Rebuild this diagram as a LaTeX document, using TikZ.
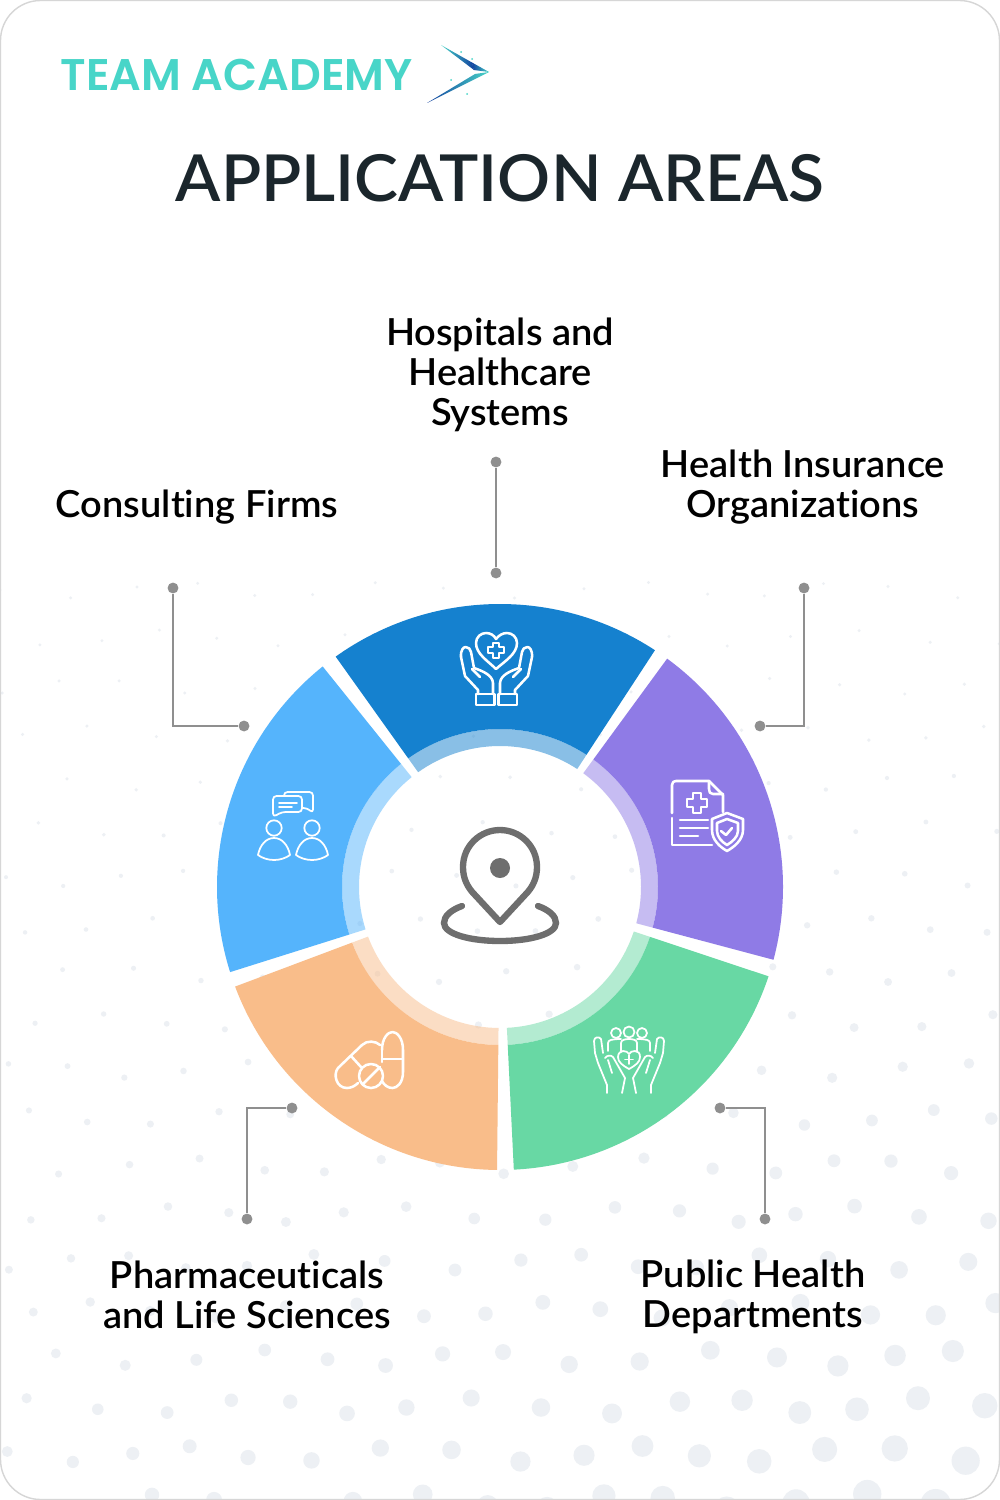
\documentclass[tikz,border=0pt]{standalone}
\usepackage{fontspec}
\setmainfont{Lato Semibold}[FakeStretch=1.02,RawFeature={-liga}]
\newfontfamily\logofont{Poppins SemiBold}
\definecolor{hospblue}{HTML}{1581CF}
\definecolor{firmblue}{HTML}{55B4FC}
\definecolor{pharmaorange}{HTML}{F9BD8A}
\definecolor{publicgreen}{HTML}{68D8A4}
\definecolor{insurepurple}{HTML}{8F7BE6}
\definecolor{logoteal}{HTML}{48D5C8}
\definecolor{logonavy}{HTML}{12409F}
\definecolor{titleink}{HTML}{1B262C}
\definecolor{leadgray}{HTML}{8F8F8F}
\definecolor{pingray}{HTML}{6E6E6E}
\definecolor{speck}{HTML}{EDF0F4}
\tikzset{
  leader/.style={draw=leadgray,line width=0.55pt},
  tick/.style={circle,fill=leadgray,inner sep=0pt,minimum size=3.1pt},
  arealabel/.style={align=center,font=\fontsize{10.6}{11.4}\selectfont,text=black},
  icon/.style={draw=white,line width=0.72pt,line cap=round,line join=round},
  thinicon/.style={icon,line width=0.5pt},
}
\begin{document}
\begin{tikzpicture}[x=0.01cm,y=-0.01cm]
  \useasboundingbox (0,0) rectangle (1000,1500);
  \fill[white] (0,0) rectangle (1000,1500);
  % backdrop specks
  \begin{scope}
    \clip[rounded corners=11.4pt] (0,0) rectangle (1000,1500);
    \foreach \row in {0,...,19}{
      \foreach \col in {-1,...,15}{
        \pgfmathsetmacro{\px}{\col*64+mod(\row,2)*31+9*sin(\row*83+\col*47)}
        \pgfmathsetmacro{\py}{590+\row*48+8*sin(\row*59+\col*101)}
        \pgfmathsetmacro{\tval}{(\py-600)/900}
        \pgfmathsetmacro{\dotr}{1.6+14*\tval*\tval*(0.3+0.7*max(\px,0)/1000)}
        \fill[speck] (\px,\py) circle[radius=\dotr];
      }
    }
  \end{scope}
  \draw[draw=black!16,line width=0.4pt,rounded corners=11.4pt] (0.5,0.5) rectangle (999.5,1499.5);

  % logo
  \node[anchor=west,inner sep=0pt,text=logoteal,font=\logofont\fontsize{12.6}{14}\selectfont] (logo) at (60,75) {TEAM ACADEMY};
  \shade[left color=logoteal,right color=logonavy] (441,45) -- (472,62.5) -- (474,70) -- cycle;
  \shade[left color=logonavy,right color=logoteal] (471.8,62.4) -- (489,72) -- (473.8,70) -- cycle;
  \shade[left color=logonavy,right color=logoteal] (427,103) -- (475,74) -- (489,72) -- cycle;
  \foreach \sx/\sy in {461/52,472/59,451/80,467/94}
    \fill[logoteal] (\sx,\sy) circle[radius=1];

  \node[inner sep=0pt,text=titleink,font=\fontsize{18.4}{20}\selectfont] (title) at (500,178) {APPLICATION AREAS};

  % ring
  \begin{scope}[shift={(500,887)},y=0.01cm]
    \foreach \from/\to/\tone in {56.8/125.5/hospblue,128.8/197.5/firmblue,200.6/269.4/pharmaorange,272.8/341.6/publicgreen,345.1/413.8/insurepurple}{
      \fill[\tone] (\from:158) arc[start angle=\from,end angle=\to,radius=158] -- (\to:283) arc[start angle=\to,end angle=\from,radius=283] -- cycle;
      \fill[\tone,opacity=0.5] (\from:141) arc[start angle=\from,end angle=\to,radius=141] -- (\to:158) arc[start angle=\to,end angle=\from,radius=158] -- cycle;
    }
  \end{scope}

  % centre pin
  \draw[draw=pingray,line width=1.8pt,line join=round] (500,922) -- (475,895) .. controls (467,887) and (463,878) .. (463,867) .. controls (463,846) and (480,830) .. (500,830) .. controls (520,830) and (537,846) .. (537,867) .. controls (537,878) and (533,887) .. (525,895) -- cycle;
  \fill[pingray] (500,868) circle[radius=10];
  \draw[draw=pingray,line width=1.8pt,line cap=round] (462,906) .. controls (451,910) and (444,916) .. (444,923) .. controls (444,934) and (470,941) .. (500,941) .. controls (530,941) and (556,934) .. (556,923) .. controls (556,916) and (549,910) .. (538,906);

  % leaders
  \node[tick] (hospA) at (496,462) {};
  \node[tick] (hospB) at (496,573) {};
  \draw[leader] (hospA) -- (hospB);
  \node[tick] (firmA) at (173,588) {};
  \node[tick] (firmB) at (244,726) {};
  \draw[leader] (firmA) |- (firmB);
  \node[tick] (insureA) at (804,588) {};
  \node[tick] (insureB) at (760,726) {};
  \draw[leader] (insureA) |- (insureB);
  \node[tick] (pharmaA) at (247,1219) {};
  \node[tick] (pharmaB) at (292,1108) {};
  \draw[leader] (pharmaA) |- (pharmaB);
  \node[tick] (publicA) at (765,1219) {};
  \node[tick] (publicB) at (720,1108) {};
  \draw[leader] (publicA) |- (publicB);

  % labels
  \node[arealabel] (hosplabel) at (500,375) {Hospitals and\\Healthcare\\Systems};
  \node[arealabel] (firmlabel) at (197,507) {Consulting Firms};
  \node[arealabel] (insurelabel) at (803,487) {Health Insurance\\Organizations};
  \node[arealabel] (pharmalabel) at (247,1295) {Pharmaceuticals\\and Life Sciences};
  \node[arealabel] (publiclabel) at (753,1297) {Public Health\\Departments};

  % hands and heart
  \draw[icon] (496,669) .. controls (488,661) and (476,654) .. (476,643) .. controls (476,637) and (481,633) .. (486,633) .. controls (490,633) and (494,635) .. (496,639) .. controls (499,635) and (503,633) .. (507,633) .. controls (512,633) and (517,637) .. (517,643) .. controls (517,654) and (505,661) .. (496,669) -- cycle;
  \draw[icon] (493,643) -- (499,643) -- (499,647) -- (504,647) -- (504,653) -- (499,653) -- (499,658) -- (493,658) -- (493,653) -- (488,653) -- (488,647) -- (493,647) -- cycle;
  \foreach \s in {1,-1}{
    \begin{scope}[shift={(496.5,0)},xscale=\s]
      \draw[icon] (-35.5,657) .. controls (-36,650) and (-33,647) .. (-31,647) .. controls (-28,647) and (-26,649) .. (-25.5,652) -- (-22.5,668) .. controls (-14,671) and (-4,675) .. (-3.5,683) -- (-3.5,694);
      \draw[icon] (-35.5,657) -- (-31.5,676) -- (-18.5,690) -- (-18.5,694);
      \draw[icon] (-24.5,669) -- (-16.5,677);
      \draw[icon] (-20.5,694) rectangle (-2,705);
    \end{scope}
  }

  % document and shield
  \draw[icon] (672,818) -- (672,845) -- (712,845);
  \draw[icon] (672,813) -- (672,785) .. controls (672,782) and (674,781) .. (676,781) -- (709,781) -- (723,795) -- (723,812);
  \draw[icon] (709,781) -- (709,789) .. controls (709,792) and (710,794) .. (713,794) -- (723,794);
  \draw[icon] (693,793) -- (701,793) -- (701,799) -- (707,799) -- (707,807) -- (701,807) -- (701,813) -- (693,813) -- (693,807) -- (687,807) -- (687,799) -- (693,799) -- cycle;
  \draw[icon] (680,820) -- (708,820) (680,828) -- (708,828) (680,836) -- (698,836);
  \draw[icon] (727,813) -- (712,819) -- (712,830) .. controls (712,840) and (720,847) .. (727,851) .. controls (734,847) and (743,840) .. (743,830) -- (743,819) -- cycle;
  \draw[icon] (727,819) -- (717,823) -- (717,831) .. controls (717,837) and (722,842) .. (727,845) .. controls (732,842) and (738,837) .. (738,831) -- (738,823) -- cycle;
  \draw[icon] (721,831) -- (726,835) -- (732,828);

  % people in hands
  \foreach \hx/\hy/\hr in {616/1033/5,629/1032/5.5,642/1033/5}
    \draw[thinicon] (\hx,\hy) circle[radius=\hr];
  \draw[thinicon] (608,1051) -- (608,1043) .. controls (608,1040) and (612,1039) .. (621,1039);
  \draw[thinicon] (650,1051) -- (650,1043) .. controls (650,1040) and (646,1039) .. (637,1039);
  \draw[thinicon] (621,1051) -- (621,1043) .. controls (621,1040) and (625,1039) .. (629,1039) .. controls (633,1039) and (637,1040) .. (637,1043) -- (637,1051);
  \draw[thinicon] (629,1069) .. controls (622,1065) and (618,1062) .. (618,1057) .. controls (618,1053) and (621,1051) .. (623,1051) .. controls (626,1051) and (628,1052) .. (629,1054) .. controls (630,1052) and (632,1051) .. (635,1051) .. controls (638,1051) and (640,1053) .. (640,1057) .. controls (640,1062) and (636,1065) .. (629,1069) -- cycle;
  \draw[thinicon] (629,1055) -- (629,1064) (625,1059.5) -- (633,1059.5);
  \foreach \s in {1,-1}{
    \begin{scope}[shift={(629,0)},xscale=\s]
      \draw[thinicon] (-22,1085) -- (-22,1093);
      \draw[thinicon] (-22,1085) -- (-31,1063) -- (-34,1053) -- (-35,1041) .. controls (-35,1037) and (-30,1036) .. (-28,1039) -- (-26,1053);
      \draw[thinicon] (-24,1058) .. controls (-22,1055) and (-18,1055) .. (-16,1057) -- (-4,1078) -- (-7,1093);
      \draw[thinicon] (-21,1060) -- (-17,1073);
    \end{scope}
  }

  % pills
  \draw[icon] (382,1050) .. controls (382,1038) and (388,1032) .. (392.5,1032) .. controls (397,1032) and (403,1038) .. (403,1050) -- (403,1072) .. controls (403,1083) and (397,1088) .. (392.5,1088) .. controls (388,1088) and (384,1085) .. (382,1081);
  \draw[icon] (382,1050) -- (382,1062);
  \draw[icon] (382,1059) -- (403,1059);
  \draw[icon] (380,1045) .. controls (376,1041) and (367,1040) .. (362,1045) -- (338,1068) .. controls (333,1074) and (336,1088) .. (347,1088) .. controls (351,1088) and (355,1086) .. (358,1083);
  \draw[icon] (351,1056) -- (361,1067);
  \draw[icon] (371,1076) circle[radius=12];
  \draw[icon] (363,1084) -- (380,1067);

  % people and chat
  \foreach \hx in {274,312}{
    \draw[thinicon] (\hx,828) circle[radius=7.7];
    \draw[thinicon] (\hx-16,855) .. controls (\hx-14,845) and (\hx-8,838) .. (\hx,838) .. controls (\hx+8,838) and (\hx+14,845) .. (\hx+16,855) .. controls (\hx+12,858) and (\hx+6,860) .. (\hx,860) .. controls (\hx-6,860) and (\hx-12,858) .. (\hx-16,855) -- cycle;
  }
  \draw[thinicon,rounded corners=1pt] (273,817) -- (273,796) -- (302,796) -- (302,812) -- (282,812) -- cycle;
  \draw[thinicon] (279,803) -- (297,803) (279,807) -- (292,807);
  \draw[thinicon,rounded corners=1pt] (284,796) -- (284,792) -- (313,792) -- (313,813) -- (307,808) -- (302,808);
\end{tikzpicture}
\end{document}
